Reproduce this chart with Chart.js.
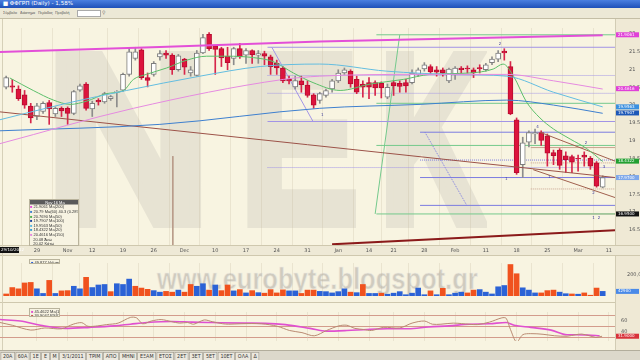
<!DOCTYPE html>
<html>
<head>
<meta charset="utf-8">
<script src="https://cdn.jsdelivr.net/npm/chart.js@4.4.1/dist/chart.umd.min.js"></script>
<style>
body{margin:0;width:640px;height:360px;overflow:hidden;background:#f8f4e1;font-family:"DejaVu Sans",sans-serif;position:relative}
.abs{position:absolute}
.t{font-size:8px;line-height:8px;transform:scale(0.6);transform-origin:0 0;white-space:nowrap}
.n{font-family:"Liberation Sans",sans-serif;transform:scale(0.5)}
#title{left:0;top:0;width:640px;height:8px;background:linear-gradient(#4a7fe0,#1e50b8);color:#fff}
#menu{left:0;top:8px;width:640px;height:10px;background:#ece8d6;border-bottom:1px solid #c4bea6;color:#555}
#axisbg{left:615px;top:19px;width:25px;height:331px;background:#efe9d5;border-left:1px solid #d2ccb4}
#datebg{left:0;top:245px;width:640px;height:11px;background:#eee9d6;border-top:1px solid #cfc8ae;border-bottom:1px solid #cfc8ae;box-sizing:border-box}
.wm{top:14px;font:bold 240px/250px "Liberation Sans",sans-serif;color:#e7e3d3;-webkit-text-stroke:12px #e7e3d3;transform-origin:0 0}
#wm2{left:157px;top:262px;font:bold 30px/34px "Liberation Sans",sans-serif;color:#cfcbbf;transform:scaleX(0.85);transform-origin:0 0;-webkit-text-stroke:0.6px #efece2}
canvas{position:absolute;left:0}
.leg{background:#f7f3e2;border:1px solid #b9b39c;overflow:hidden;box-sizing:border-box}
.leg .t{line-height:9.2px;color:#333}
.leg b{display:block;background:#5a5a5a;color:#fff;text-align:center;font-weight:normal}
#tabs{left:0;top:350px;width:640px;height:10px;background:#dcd8cb;border-top:1px solid #b2ad9c}
#tabs .t span{display:inline-block;border:1px solid #9c978a;background:#ebe8de;padding:0 3px;margin-right:1px;height:12px;line-height:12px;color:#333}
.sep{left:0;width:615px;height:1px;background:#cfc8ae}
</style>
</head>
<body>
<div id="title" class="abs"><div class="t" style="padding:1px 0 0 4px;transform:scale(0.7)">■ ΦΦΓΡΠ (Daily) - 1,58%</div></div>
<div id="menu" class="abs">
<div class="abs t n" style="left:3px;top:3px;transform:scale(0.45)">Σύμβολο</div>
<div class="abs t n" style="left:20px;top:3px;transform:scale(0.45)">Διάστημα</div>
<div class="abs t n" style="left:38px;top:3px;transform:scale(0.45)">Περίοδος</div>
<div class="abs t n" style="left:55px;top:3px;transform:scale(0.45)">Προβολή</div>
<div class="abs" style="left:77px;top:2px;width:22px;height:5px;background:#fff;border:1px solid #aaa"></div>
<div class="abs t" style="left:102px;top:2px;color:#777">⚲</div>
</div>
<div id="axisbg" class="abs"></div>
<div id="datebg" class="abs"></div>
<div class="abs sep" style="top:302px"></div>
<div class="abs" style="left:2px;top:19px;width:1px;height:331px;background:#d6d0b8"></div>
<div class="abs wm" style="left:46px;transform:scaleX(0.95)">N</div>
<div class="abs wm" style="left:240px;transform:scaleX(0.74)">E</div>
<div class="abs wm" style="left:380px;transform:scaleX(0.6)">K</div>
<div id="wm2" class="abs">www.eurobyte.blogspot.gr</div>
<canvas id="main" width="640" height="237" style="top:19px"></canvas>
<canvas id="vol" width="640" height="47" style="top:256px"></canvas>
<canvas id="osc" width="640" height="47" style="top:303px"></canvas>
<div class="abs" style="left:0;top:247px;width:19px;height:6px;background:#111"><div class="t" style="color:#fff;transform:scale(0.5);padding:2px 0 0 2px">29/10/2012</div></div>
<div class="abs leg" style="left:29px;top:199px;width:50px;height:47px"><div class="t n" style="width:100px">
<b>Nov 16 Ma</b>
<div><span style="color:#e34fd8">■</span> 21.9061 Ma(200)</div>
<div><span style="color:#3d7fcf">■</span> 20.79 Ma(60) 40.3 (0.28%)</div>
<div><span style="color:#4caf50">■</span> 20.7690 Ma(50)</div>
<div><span style="color:#1a3f9a">■</span> 19.7907 Ma(100)</div>
<div><span style="color:#5ab8e0">■</span> 19.9563 Ma(50)</div>
<div><span style="color:#3aa0d0">■</span> 18.4322 Ma(20)</div>
<div><span style="color:#e58ae0">■</span> 20.4616 Ma(150)</div>
<div>&nbsp;&nbsp;&nbsp;20.08 Άνω</div>
<div>&nbsp;&nbsp;&nbsp;20.02 Κάτω</div>
<div>&nbsp;&nbsp;&nbsp;20.04 Διάμεσος</div>
</div></div>
<div class="abs leg" style="left:29px;top:259px;width:31px;height:5px"><div class="t n" style="width:60px;line-height:9px;padding-left:2px"><span style="color:#2a5fd8">■</span> 49,877 Volume</div></div>
<div class="abs leg" style="left:29px;top:308px;width:31px;height:9px"><div class="t n" style="width:60px;padding-left:2px"><div><span style="color:#e050d0">■</span> 45.4622 Ma(10)</div><div><span style="color:#c0504a">■</span> 30.9047 RSI(14)</div></div></div>
<div id="tabs" class="abs"><div class="t" style="padding:2px 0 0 1px"><span>20Α</span><span>60Α</span><span>1Ε</span><span>Ε</span><span>Μ</span><span>3/1/2011</span><span>ΤΡΙΜ</span><span>ΑΠΟ</span><span>ΜΗΝΙ</span><span>ΕΞΑΜ</span><span>ΕΤΟΣ</span><span>2ΕΤ</span><span>3ΕΤ</span><span>5ΕΤ</span><span>10ΕΤ</span><span>ΟΛΑ</span><span>Δ</span></div></div>
<script>
// ---- candles ----
const openP  = [20.50,20.54,20.45,20.29,19.97,19.68,19.82,20.07,19.75,19.91,19.91,19.77,20.42,20.59,19.89,20.13,20.09,20.18,20.36,20.42,
  20.86,21.31,21.55,20.77,20.86,21.35,21.46,21.40,20.99,21.29,20.90,20.83,21.46,21.98,21.65,21.58,21.37,21.31,21.58,21.40,
  21.53,21.40,21.44,21.35,21.17,21.04,20.72,20.51,20.68,20.56,20.29,20.13,20.27,20.45,20.68,20.90,20.95,20.72,20.59,20.63,
  20.63,20.61,20.22,20.63,20.61,20.63,20.63,20.86,21.01,21.08,20.99,20.99,20.68,20.86,21.04,21.04,20.99,21.05,20.99,21.19,
  21.29,21.51,21.08,19.59,18.33,18.96,19.19,19.23,19.14,18.67,18.74,18.58,18.56,18.51,18.60,18.51,18.38,17.70];
const highP  = [20.81,20.72,20.54,20.41,20.05,20.05,20.09,20.13,19.95,19.95,19.95,20.41,20.59,20.63,20.11,20.18,20.36,20.27,20.41,20.90,
  21.62,21.62,21.58,20.90,21.22,21.53,21.53,21.44,21.42,21.31,21.08,21.53,21.98,22.03,21.67,21.62,21.62,21.62,21.73,21.58,
  21.55,21.53,21.51,21.40,21.26,21.08,20.81,20.81,20.81,20.68,20.32,20.36,20.45,20.72,20.99,21.04,20.99,20.81,20.68,20.77,
  20.68,20.65,20.59,20.68,20.68,20.72,20.99,21.04,21.19,21.13,21.08,21.04,21.04,21.08,21.08,21.10,21.04,21.13,21.17,21.35,
  21.53,21.58,21.22,19.64,19.10,19.28,19.33,19.28,19.19,18.74,18.78,18.69,18.60,18.60,18.69,18.56,18.42,18.02];
const lowP   = [20.45,20.36,20.13,19.91,19.50,19.59,19.77,19.46,19.68,19.68,19.46,19.73,20.38,19.86,19.68,20.00,20.05,20.13,19.95,20.38,
  20.81,21.26,20.72,20.51,20.81,21.26,21.31,20.86,20.95,20.86,20.81,20.81,21.44,21.53,20.86,21.08,20.99,21.13,21.31,21.17,
  21.17,21.17,21.13,20.86,20.86,20.63,20.59,20.45,20.36,20.22,19.91,20.05,20.22,20.36,20.63,20.86,20.50,20.32,20.22,20.18,
  20.27,20.20,20.18,20.27,20.36,20.36,20.59,20.81,20.95,20.86,20.81,20.81,20.63,20.72,20.90,20.90,20.77,20.90,20.95,21.13,
  21.22,21.26,19.73,18.06,17.97,18.83,18.92,18.87,18.29,18.33,18.20,18.11,18.11,18.15,18.29,18.20,17.70,17.68];
const closeP = [20.77,20.50,20.18,20.00,19.64,19.98,20.05,19.89,19.91,19.84,19.77,20.38,20.54,19.91,20.05,20.09,20.32,20.24,20.38,20.86,
  21.49,21.49,20.77,20.69,21.17,21.44,21.40,20.99,21.38,21.06,20.99,21.46,21.89,21.58,21.56,21.32,21.19,21.58,21.35,21.53,
  21.41,21.44,21.37,21.08,21.04,20.68,20.68,20.69,20.57,20.27,20.00,20.32,20.41,20.68,20.90,20.99,20.59,20.36,20.50,20.50,
  20.48,20.48,20.50,20.54,20.52,20.54,20.90,20.99,21.13,20.93,20.92,20.90,21.01,21.04,20.99,21.01,20.90,21.01,21.13,21.29,
  21.46,21.46,19.75,18.11,18.94,19.23,19.23,19.01,18.65,18.58,18.31,18.47,18.40,18.50,18.54,18.29,17.73,17.97];

// ---- volume ----
const volume = [19000,78600,66700,121400,126200,66700,23800,145200,23800,47600,
  50000,90500,66700,173800,78600,102400,107100,40500,114300,107100,
  157100,90500,73800,61900,50000,35700,42900,35700,54800,35700,
  107100,90500,114300,54800,102400,50000,102400,47600,59500,28600,
  50000,31000,26200,59500,28600,57100,47600,47600,23800,54800,
  54800,42900,40500,28600,40500,66700,35700,31000,107100,23800,
  23800,26200,16700,26200,40500,11900,26200,73800,11900,47600,
  11900,71400,11900,26200,35700,28600,54800,59500,35700,19000,
  85700,97600,292900,207100,76200,54800,28600,28600,50000,54800,
  35700,21400,19000,16700,28600,7100,73800,42900];
const volSide = ('rrrrrbbrbr'+'rbbrbbbrbb'+'brrrbbrrbr'+'rbbrbrrbrb'+'rbrrrrbbrr'+'rbbbbbrbrb'+'brbbbbbbbr'+'brbbbrrbbb'+'bbrrbbbrrr'+'bbrbrrrb').split('');

// ---- axes ----
const dateIdx = [5,10,14,19,24,29,34,39,44,49,54,59,63,68,73,78,83,88,93,98];
const dateLabels = ['29','Nov','12','19','26','Dec','10','17','24','31','Jan','14','21','28','Feb','11','18','25','Mar','11'];
const priceTicks = [16.5,17,17.5,18,18.5,19,19.5,20,20.5,21,21.5,22];

// ---- moving averages ----
const maMagIdx = [-1,25,51,97];
const maMagVal = [21.49,21.63,21.78,21.96];
const maPinkIdx = [-1,20.7,45.1,51,67.3,81.4,89,97];
const maPinkVal = [18.92,19.91,20.72,20.81,20.86,20.86,20.68,20.45];
const maCyanIdx = [-1,9.8,19.6,31.5,41.3,51,61.9,72.7,81.4,89,97];
const maCyanVal = [19.59,20.05,20.41,20.81,21.08,21.15,20.95,20.86,20.81,20.36,19.95];
const maBlueIdx = [-1,25,51,67.3,81.4,89,97];
const maBlueVal = [19.28,19.46,19.91,20.02,20.14,20.00,19.77];
const maGreenIdx = [0.6,4.4,7.7,10.4,13.1,16.3,19.1,20.7,22.8,26.1,29.4,32.6,35.9,40.2,43.4,46.7,49.9,54.3,59.2,64.6,68.9,75.4,79.2,80.8,82.5,84.6,86.8,89,91.7,94.4,97];
const maGreenVal = [20.76,20.41,20.14,20.02,20.11,20.32,20.41,20.72,20.86,21.04,21.26,21.37,21.37,21.33,21.22,20.90,20.63,20.41,20.59,20.72,20.86,20.90,21.01,21.15,20.81,20.09,19.64,19.33,19.05,18.78,18.42];

// ---- drawn trend lines ----
const longTrendIdx = [-1,99], longTrendVal = [19.81,17.97];
const baseTrendIdx = [53,99], baseTrendVal = [16.10,16.49];
const chanTopIdx = [86.8,99], chanTopVal = [19.24,18.43];
const chanLowIdx = [85.7,99], chanLowVal = [18.19,17.41];
const swingAIdx = [43.2,49.9], swingAVal = [21.62,19.54];
const swingBIdx = [68.1,74.9], swingBVal = [19.24,17.19];
const swingCIdx = [60,64], swingCVal = [16.95,21.97];
const markIdx = [27.1,27.1], markVal = [18.57,16.08];

// ---- fibonacci levels ----
const fibAFrom = 42.5, fibAPct = ['0%','38.2%','61.8%','100%','161.8%'], fibAPrice = [21.62,20.83,20.33,19.54,18.25];
const fibBFrom = 67.3, fibBPct = ['0%','38.2%','61.8%','100%'], fibBPrice = [19.24,18.46,17.97,17.19];
const fibCFrom = 60.2, fibCPct = ['100%','61.8%','38.2%','0%'], fibCPrice = [21.97,20.05,18.87,16.95];
const fibDFrom = 85.3, fibDPct = ['0%','23.6%','100%','161.8%'], fibDPrice = [18.81,18.38,17.65,16.95];

const waveIdx = [51.2,80.1,86.2,81.1,94.1,97.0,88.1,95.3,95.3,96.2];
const waveVal = [19.73,21.70,19.38,17.92,18.95,18.27,18.00,17.54,16.84,16.84];
const waveText = ['1','2','4','1','2','3','1','2','1','2'];

const tagVal  = [21.97,20.46,19.95,19.78,18.43,17.97,16.95];
const tagText = ['21.9061','20.4616','19.9563','19.7907','18.4322','17.9700','16.9500'];

// ---- oscillator ----
const rsiIdx = [-1,1,4,6.3,9,10.9,12.3,13.3,14.9,16.3,18.2,20.2,21.2,22.2,23.6,25.2,26.9,28.2,29.5,30.5,32.2,33.5,35.2,36.2,38.2,41.5,44.1,46.1,48.1,50.1,52.1,54.1,55.4,56.7,58.1,59.4,61.4,64,66,68,69.3,70.7,72.7,75.3,76.6,78.6,80.6,81.3,82,83,84,85.3,87.3,89.2,91.2,92.6,93.6,94.9,95.9,96.9];
const rsiVal = [57.4,52.3,43.3,47.3,45.7,54.3,57.1,50.4,51.2,53.5,56.3,66.9,66.1,55.1,60.2,62.9,59.0,56.3,57.4,54.3,62.2,59.0,55.1,54.3,55.1,55.1,50.4,42.5,38.6,32.7,42.5,51.2,52.3,46.5,44.5,42.5,48.4,47.3,56.3,60.2,54.3,54.3,56.3,54.3,53.5,58.2,66.1,65.3,44.5,21.0,34.7,36.7,35.5,32.7,31.9,34.7,35.9,32.7,29.6,31.9];
const rsiMaIdx = [-1,2.3,5.6,9.6,13.6,17.6,20.2,22.9,26.9,30.2,33.5,38.8,42.1,45.4,49.4,52.1,55.4,58.7,62,65.4,68.7,72,75.3,78.6,81.3,82.6,85.3,88.6,91.2,92.6,94.6,96.5];
const rsiMaVal = [62.9,60.2,52.3,46.5,48.4,51.2,54.3,57.4,59.4,58.2,57.4,56.3,55.9,53.5,46.5,41.4,42.5,44.5,45.7,45.7,49.2,51.2,54.3,55.1,57.4,52.3,48.4,43.3,34.7,34.7,33.9,32.7];
const oscGuide = [30,40,50,60,70];

// ---------------------------------------------------------
const FONT = '"DejaVu Sans", sans-serif';
const pts = (ix, vals) => ix.map((v, k) => ({x: v, y: vals[k]}));
const line = (data, color, width, extra) => Object.assign({type: 'line', data, borderColor: color, borderWidth: width, pointRadius: 0, fill: false, order: 0}, extra || {});
const up = openP.map((o, k) => closeP[k] >= o);

const xAxis = (show) => ({
    type: 'linear', min: -1, max: 99, offset: false,
    afterBuildTicks: s => { s.ticks = dateIdx.map(v => ({value: v})); },
    grid: {color: 'rgba(185,175,145,0.22)', drawTicks: false},
    border: {display: false},
    ticks: {display: show, autoSkip: false, maxRotation: 0, padding: 3, font: {size: 5, family: FONT}, color: '#555',
        callback: (v, i) => dateLabels[i]},
    afterFit: s => { s.height = show ? 11 : 0; }
});

const datasets = [];
// fib levels (behind everything)
function fibSet(from, pct, price, color, dashes) {
    price.forEach((p, k) => datasets.push(line(pts([from, 99], [p, p]), color, 1, {order: 9, borderDash: dashes[k] ? [1, 1] : []})));
}
fibSet(fibAFrom, fibAPct, fibAPrice, '#a294e6', [0, 1, 1, 0, 1]);
fibSet(fibBFrom, fibBPct, fibBPrice, '#7c7ce0', [0, 1, 0, 0]);
fibSet(fibCFrom, fibCPct, fibCPrice, '#74c98c', [0, 0, 0, 0]);
fibSet(fibDFrom, fibDPct, fibDPrice, '#c9a28e', [0, 1, 1, 0]);
datasets.push(line(pts(swingAIdx, swingAVal), '#a294e6', 1, {order: 9}));
datasets.push(line(pts(swingBIdx, swingBVal), '#7c7ce0', 1, {order: 9, borderDash: [1, 1]}));
datasets.push(line(pts(swingCIdx, swingCVal), '#74c98c', 1, {order: 9}));
datasets.push(line(pts(markIdx, markVal), '#b89b8a', 1, {order: 9}));

// candles
datasets.push({type: 'bar', grouped: false, order: 3, barThickness: 1,
    data: lowP.map((l, k) => ({x: k, y: [l, highP[k]]})),
    backgroundColor: up.map(u => u ? '#8c8c8c' : '#d7264b')});
datasets.push({type: 'bar', grouped: false, order: 2, barThickness: 5, borderWidth: 1, borderSkipped: false,
    data: openP.map((o, k) => ({x: k, y: [o, closeP[k]]})),
    backgroundColor: up.map(u => u ? '#ffffff' : '#dc143c'),
    borderColor: up.map(u => u ? '#7d7d7d' : '#b80d30')});

// moving averages & trend lines
datasets.push(line(pts(maMagIdx, maMagVal), '#e34fd8', 2));
datasets.push(line(pts(maPinkIdx, maPinkVal), '#e58ae0', 1, {cubicInterpolationMode: 'monotone'}));
datasets.push(line(pts(maCyanIdx, maCyanVal), '#63bde0', 1, {cubicInterpolationMode: 'monotone'}));
datasets.push(line(pts(maBlueIdx, maBlueVal), '#3d7fcf', 1, {cubicInterpolationMode: 'monotone'}));
datasets.push(line(pts(maGreenIdx, maGreenVal), '#5cbf6a', 1, {cubicInterpolationMode: 'monotone'}));
datasets.push(line(pts(longTrendIdx, longTrendVal), '#9c5248', 1));
datasets.push(line(pts(baseTrendIdx, baseTrendVal), '#8b1a1a', 2));
datasets.push(line(pts(chanTopIdx, chanTopVal), '#a0604e', 1));
datasets.push(line(pts(chanLowIdx, chanLowVal), '#a0604e', 1));

const tagColors = ['#e040d8', '#e040d8', '#3a90e0', '#1d58b8', '#22a032', '#7ea8ea', '#111111'];

const notes = {
    id: 'notes',
    afterDatasetsDraw(chart) {
        const {ctx, scales: {x, y}, chartArea: a} = chart;
        ctx.save();
        ctx.font = '4px ' + FONT;
        ctx.textBaseline = 'middle';
        const fibText = (from, pct, price, color) => pct.forEach((t, k) => {
            ctx.fillStyle = color;
            ctx.fillText(t, x.getPixelForValue(from) + 1, y.getPixelForValue(price));
        });
        fibText(fibAFrom, fibAPct, fibAPrice, '#4a3cc8');
        fibText(fibBFrom, fibBPct, fibBPrice, '#3a3ab8');
        fibText(fibCFrom, fibCPct, fibCPrice, '#2a9a48');
        fibText(fibDFrom, fibDPct, fibDPrice, '#8a5a40');
        ctx.fillStyle = '#3a3a9a';
        waveText.forEach((t, k) => ctx.fillText(t, x.getPixelForValue(waveIdx[k]), y.getPixelForValue(waveVal[k])));
        // right axis value tags
        tagVal.forEach((v, k) => {
            const py = y.getPixelForValue(v);
            ctx.fillStyle = tagColors[k];
            ctx.fillRect(a.right + 1, py - 2.5, 23, 5);
            ctx.fillStyle = '#fff';
            ctx.fillText(tagText[k], a.right + 3, py);
        });
        ctx.restore();
    }
};

new Chart(document.getElementById('main'), {
    type: 'bar',
    data: {datasets},
    options: {
        animation: false, responsive: false, maintainAspectRatio: false,
        layout: {padding: {top: 1, left: 0, right: 0, bottom: 0}},
        plugins: {legend: {display: false}, tooltip: {enabled: false}},
        scales: {
            x: xAxis(true),
            y: {
                position: 'right', min: 16.08, max: 22.16,
                afterBuildTicks: s => { s.ticks = priceTicks.map(v => ({value: v})); },
                grid: {display: false}, border: {display: false},
                ticks: {font: {size: 5, family: FONT}, color: '#555', padding: 6,
                    callback: v => Number.isInteger(v) ? String(v) : v.toFixed(2)},
                afterFit: s => { s.width = 25; }
            }
        }
    },
    plugins: [notes]
});

// ---- volume panel ----
const volTag = {
    id: 'volTag',
    afterDatasetsDraw(chart) {
        const {ctx, scales: {y}, chartArea: a} = chart;
        const last = volume[volume.length - 1];
        const py = y.getPixelForValue(last);
        ctx.save();
        ctx.fillStyle = '#4a8ae8';
        ctx.fillRect(a.right + 1, py - 2.5, 23, 5);
        ctx.fillStyle = '#fff';
        ctx.font = '4px ' + FONT;
        ctx.textBaseline = 'middle';
        ctx.fillText(String(last), a.right + 3, py);
        ctx.restore();
    }
};
new Chart(document.getElementById('vol'), {
    type: 'bar',
    data: {datasets: [{
        data: volume.map((v, k) => ({x: k, y: v})),
        barThickness: 5,
        backgroundColor: volSide.map(s => s === 'r' ? '#f0521e' : '#2b62d6')
    }]},
    options: {
        animation: false, responsive: false, maintainAspectRatio: false,
        layout: {padding: {top: 2, bottom: 2}},
        plugins: {legend: {display: false}, tooltip: {enabled: false}},
        scales: {
            x: xAxis(false),
            y: {
                position: 'right', min: 0, max: 307000,
                afterBuildTicks: s => { s.ticks = [{value: 200000}]; },
                grid: {display: false}, border: {display: false},
                ticks: {font: {size: 5, family: FONT}, color: '#555', padding: 4},
                afterFit: s => { s.width = 25; }
            }
        }
    },
    plugins: [volTag]
});

// ---- RSI panel ----
const oscTag = {
    id: 'oscTag',
    afterDatasetsDraw(chart) {
        const {ctx, scales: {y}, chartArea: a} = chart;
        const last = rsiVal[rsiVal.length - 1];
        const py = y.getPixelForValue(last);
        ctx.save();
        ctx.fillStyle = '#d8323a';
        ctx.fillRect(a.right + 1, py - 2.5, 23, 5);
        ctx.fillStyle = '#fff';
        ctx.font = '4px ' + FONT;
        ctx.textBaseline = 'middle';
        ctx.fillText(last.toFixed(4), a.right + 3, py);
        ctx.restore();
    }
};
new Chart(document.getElementById('osc'), {
    type: 'line',
    data: {datasets: [
        line(pts(rsiIdx, rsiVal), '#b98a72', 1, {tension: 0.3}),
        line(pts(rsiMaIdx, rsiMaVal), '#e050d0', 1.6, {cubicInterpolationMode: 'monotone'})
    ]},
    options: {
        animation: false, responsive: false, maintainAspectRatio: false,
        layout: {padding: {top: 1, bottom: 0}},
        plugins: {legend: {display: false}, tooltip: {enabled: false}},
        scales: {
            x: xAxis(false),
            y: {
                position: 'right', min: 23, max: 77,
                afterBuildTicks: s => { s.ticks = oscGuide.map(v => ({value: v})); },
                grid: {color: c => c.tick && c.tick.value % 20 === 10 ? '#d39c8c' : 'transparent', drawTicks: false, lineWidth: 1},
                border: {display: false},
                ticks: {font: {size: 5, family: FONT}, color: '#555', padding: 6,
                    callback: v => v % 20 === 0 ? String(v) : ''},
                afterFit: s => { s.width = 25; }
            }
        }
    },
    plugins: [oscTag]
});
</script>
</body>
</html>
